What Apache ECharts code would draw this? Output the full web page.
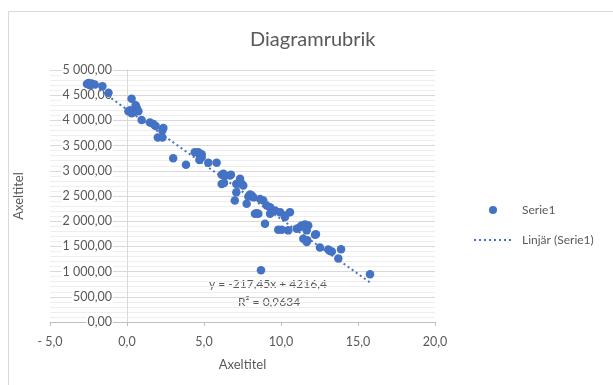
<!DOCTYPE html>
<html lang="sv">
<head>
<meta charset="utf-8">
<title>Diagramrubrik</title>
<script src="https://cdn.jsdelivr.net/npm/echarts@6/dist/echarts.min.js"></script>
<style>
  html, body { margin: 0; padding: 0; background: #fff; }
  #chart { width: 613px; height: 385px; }
</style>
</head>
<body>
<div id="chart"></div>
<script>
// Serie1 - x values
var xs = [-2.6, -2.5, -2.4, -2.3, -2.1, -1.6, -1.2,
  0.3, 0.56, 0.63, 0.09, 0.41, 0.74, 0.3, 0.2, 0.95,
  1.49, 1.71, 1.86, 2.36, 2.3, 2.0, 2.3,
  3.0, 3.83,
  4.4, 4.63, 4.85, 4.74, 4.85, 4.7, 5.28, 5.82,
  6.26, 6.15, 6.36, 6.69, 6.75, 6.15, 6.3,
  7.34, 7.1, 7.45, 7.55, 7.34, 7.1, 7.99, 7.0, 7.77,
  7.88, 8.1, 8.2, 8.64, 8.85, 9.07, 8.42, 8.53, 8.31,
  9.29, 9.29, 9.61, 9.94, 10.26, 10.58, 10.26,
  8.96, 9.82, 10.05, 10.47, 11.02, 11.23, 11.34, 11.56, 11.77, 11.67,
  11.45, 11.71, 11.67, 12.21, 12.27, 12.53, 13.07, 13.18, 13.3, 13.9, 13.72,
  15.78, 8.7];
// Serie1 - y values
var ys = [4720, 4740, 4700, 4730, 4710, 4680, 4550,
  4430, 4300, 4250, 4180, 4160, 4180, 4140, 4200, 4010,
  3960, 3930, 3890, 3850, 3800, 3660, 3660,
  3250, 3120,
  3370, 3370, 3330, 3300, 3270, 3215, 3160, 3160,
  2940, 2920, 2905, 2905, 2920, 2740, 2760,
  2840, 2740, 2740, 2710, 2806, 2575, 2530, 2410, 2345,
  2490, 2510, 2476, 2440, 2410, 2310, 2160, 2150, 2148,
  2279, 2148, 2213, 2180, 2081, 2180, 2115,
  1951, 1832, 1832, 1818, 1852, 1883, 1917, 1937, 1917, 1818,
  1654, 1621, 1587, 1733, 1739, 1476, 1437, 1409, 1400, 1443, 1259,
  949, 1028];

// trendline as printed on the chart
var slope = -217.45;
var intercept = 4216.4;
var rSquared = 0.9634;

var xTicks = [-5, 0, 5, 10, 15, 20];
var yTicks = [0, 500, 1000, 1500, 2000, 2500, 3000, 3500, 4000, 4500, 5000];

var points = xs.map(function (x, i) { return [x, ys[i]]; });
var minX = Math.min.apply(null, xs);
var maxX = Math.max.apply(null, xs);
var trend = [[minX, slope * minX + intercept], [maxX, slope * maxX + intercept]];

// swedish number format: "5 000,00", "- 5,0"
function sv(n, dec) {
  var s = Math.abs(n).toFixed(dec).replace('.', ',');
  var parts = s.split(',');
  parts[0] = parts[0].replace(/\B(?=(\d{3})+(?!\d))/g, ' ');
  return (n < 0 ? '- ' : '') + parts.join(',');
}
function plain(n, dec) {
  return n.toFixed(dec).replace('.', ',');
}

var txt = '#595959';
var font = 'Lato, "Open Sans", sans-serif';

// grid box; the value axis crosses the x axis at 0 like in Excel
var gridLeft = 50, gridRight = 178;
var gridWidth = 613 - gridLeft - gridRight;
var xMin = xTicks[0], xMax = xTicks[xTicks.length - 1];
var yAxisOffset = -gridWidth * (0 - xMin) / (xMax - xMin);

var chart = echarts.init(document.getElementById('chart'));
chart.setOption({
  animation: false,
  textStyle: { fontFamily: font },
  title: {
    text: 'Diagramrubrik',
    left: 245, top: 25,
    textStyle: { fontSize: 20, fontWeight: 'normal', color: txt, fontFamily: font }
  },
  legend: {
    orient: 'vertical',
    left: 468, top: 199,
    itemWidth: 38, itemHeight: 8, itemGap: 18,
    textStyle: { fontSize: 12, color: txt, padding: [0, 0, 0, 5] },
    data: ['Serie1', { name: 'Linjär (Serie1)', itemStyle: { opacity: 0 } }]
  },
  grid: { left: gridLeft, right: gridRight, top: 70, bottom: 63, containLabel: false, outerBoundsMode: 'none' },
  xAxis: {
    type: 'value',
    min: xMin, max: xMax, interval: 5,
    name: 'Axeltitel', nameLocation: 'middle', nameGap: 36, nameMoveOverlap: false,
    nameTextStyle: { fontSize: 13, color: txt },
    axisLine: { onZero: false, lineStyle: { color: '#bfbfbf' } },
    axisTick: { show: true, length: 4, lineStyle: { color: '#bfbfbf' } },
    axisLabel: { fontSize: 12.5, color: txt, margin: 13, formatter: function (v) { return sv(v, 1); } },
    splitLine: { show: false }
  },
  yAxis: {
    type: 'value',
    min: yTicks[0], max: yTicks[yTicks.length - 1], interval: 500,
    offset: yAxisOffset,
    axisLine: { show: true, onZero: false, lineStyle: { color: '#d9d9d9' } },
    axisTick: { show: false },
    axisLabel: {
      fontSize: 12.5, color: txt, margin: 14,
      backgroundColor: '#fff', padding: [0, 1],
      formatter: function (v) { return sv(v, 2); }
    },
    splitLine: { lineStyle: { color: '#d9d9d9' } },
    minorTick: { show: false, splitNumber: 5 },
    minorSplitLine: { show: true, lineStyle: { color: '#eeeeee' } }
  },
  series: [
    {
      name: 'Serie1',
      type: 'scatter',
      symbol: 'circle',
      symbolSize: 8.5,
      itemStyle: { color: '#4472c4', opacity: 1 },
      data: points,
      z: 3
    },
    {
      name: 'Linjär (Serie1)',
      type: 'line',
      symbol: 'none',
      data: trend,
      lineStyle: { color: '#4472c4', width: 2, type: [2, 3] },
      itemStyle: { color: '#4472c4' },
      z: 4
    }
  ],
  graphic: [
    {
      type: 'rect', silent: true,
      shape: { x: 8.5, y: 11.5, width: 640, height: 400 },
      style: { fill: null, stroke: '#d9d9d9', lineWidth: 1 }
    },
    {
      type: 'text', x: 19, y: 196, rotation: Math.PI / 2,
      style: { text: 'Axeltitel', fontSize: 13, fill: txt, fontFamily: font, align: 'center', verticalAlign: 'middle' }
    },
    {
      type: 'text', left: 209, top: 278,
      style: { text: 'y = ' + plain(slope, 2) + 'x + ' + plain(intercept, 1), fontSize: 12, fill: txt, fontFamily: font }
    },
    {
      type: 'text', left: 238, top: 296,
      style: { text: 'R² = ' + plain(rSquared, 4), fontSize: 12, fill: txt, fontFamily: font }
    }
  ]
});
</script>
</body>
</html>
